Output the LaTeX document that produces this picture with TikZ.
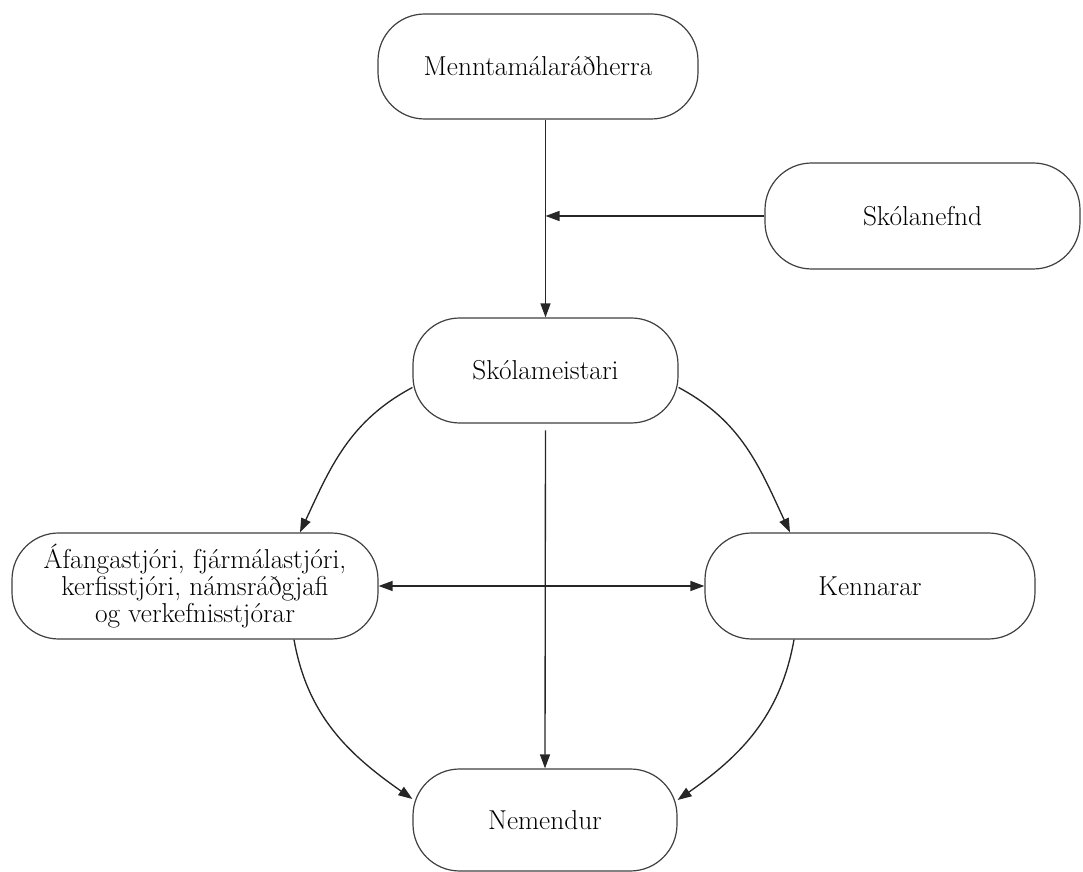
\documentclass[tikz,border=0pt]{standalone}
\usepackage{fontspec}
\usetikzlibrary{arrows.meta,calc}
\begin{document}
\begin{tikzpicture}[x=0.75pt,y=0.75pt,
  box/.style={draw=black!75, line width=0.9pt, rounded corners=35pt, align=center,
    inner sep=0pt, fill=white, font=\fontsize{20.5}{20}\selectfont},
  tip/.tip={Triangle[length=10.5pt,width=7.5pt]},
  conn/.style={draw=black!85, line width=1pt, -tip},
  dconn/.style={draw=black!85, line width=1pt, tip-tip}]
\useasboundingbox (0,0) rectangle (1083,872);
\node[box, minimum width=240pt, minimum height=78.75pt] (m) at (538,805.5) {Menntamálaráðherra};
\node[box, minimum width=236.25pt, minimum height=79.5pt] (sk) at (922.5,656) {Skólanefnd};
\node[box, minimum width=198.75pt, minimum height=78.75pt] (s) at (545.5,501.5) {Skólameistari};
\node[box, minimum width=274.5pt, minimum height=79.5pt] (l) at (195,286) {Áfangastjóri, fjármálastjóri,\\kerfisstjóri, námsráðgjafi\\og verkefnisstjórar};
\node[box, minimum width=247.5pt, minimum height=79.5pt] (k) at (870,286) {Kennarar};
\node[box, minimum width=198pt, minimum height=76.5pt] (n) at (545,52) {Nemendur};
% connectors
\draw[conn] (m.south -| s.north) -- (s.north);
\draw[conn] (sk.west) -- (sk.west -| s.north);
\draw[conn, shorten <=5pt] (s.south) -- (n.north);
\draw[conn] ([yshift=-12.75pt]s.west) to[out=208,in=65] ([xshift=78.75pt]l.north);
\draw[conn] ([yshift=-12.75pt]s.east) to[out=-28,in=115] ([xshift=-60pt]k.north);
\draw[dconn] (l.east) -- (k.west);
\draw[conn] ([xshift=74.25pt]l.south) to[out=-80,in=145] ([yshift=15.75pt]n.west);
\draw[conn] ([xshift=-57pt]k.south) to[out=-100,in=35] ([yshift=15pt]n.east);
\end{tikzpicture}
\end{document}
